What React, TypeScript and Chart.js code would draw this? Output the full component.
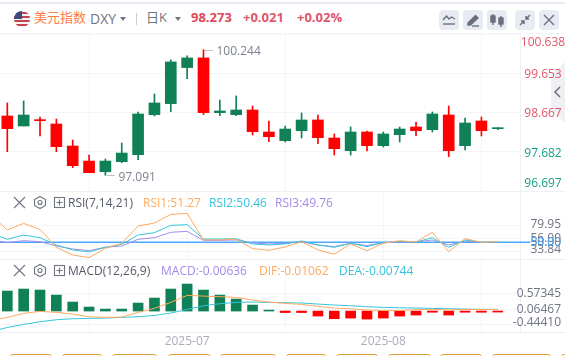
import React, { useEffect, useRef } from "react";
import { Chart, registerables } from "chart.js";

Chart.register(...registerables);

const UP = "#108156";
const DOWN = "#ff0000";
const GRID = "#f4f5f8";

// Candles, oldest first
const opens = [98.58, 98.329, 98.48, 98.379, 97.826, 97.449, 97.181, 97.433, 97.609, 98.614, 98.89, 99.795, 100.038, 98.664, 98.614, 98.731, 98.178, 97.96, 98.212, 98.48, 98.027, 97.709, 98.178, 97.835, 98.111, 98.304, 98.237, 98.605, 97.835, 98.455, 98.262];
const closes = [98.262, 98.605, 98.463, 97.81, 97.332, 97.156, 97.449, 97.65, 98.63, 98.907, 99.937, 100.038, 98.664, 98.706, 98.731, 98.186, 98.061, 98.253, 98.48, 98.036, 97.759, 98.178, 97.835, 98.128, 98.253, 98.212, 98.63, 97.709, 98.404, 98.212, 98.273];
const highs = [98.907, 98.957, 98.555, 98.505, 97.977, 97.6, 97.5, 97.902, 98.681, 99.133, 99.987, 100.088, 100.244, 98.982, 99.083, 98.831, 98.455, 98.329, 98.656, 98.605, 98.128, 98.304, 98.203, 98.178, 98.304, 98.429, 98.681, 98.831, 98.53, 98.555, 98.287];
const lows = [97.684, 98.329, 98.078, 97.684, 97.282, 97.156, 97.091, 97.408, 97.483, 98.58, 98.689, 99.518, 98.614, 98.589, 98.589, 98.103, 97.935, 97.927, 98.027, 97.885, 97.6, 97.6, 97.701, 97.801, 97.927, 98.086, 98.178, 97.558, 97.726, 98.078, 98.237];

// RSI and DIF/DEA lines start one session before the first visible candle
const rsi1 = [97, 71.3, 82.8, 72.4, 41.3, 28, 23.4, 39.6, 48.2, 78.2, 83.4, 98.4, 100.1, 54, 54, 55.7, 39, 36.1, 41.9, 51.1, 36.7, 29.2, 47.1, 35.5, 48.2, 52.8, 50.5, 67.3, 33.8, 56.3, 50, 51.27];
const rsi2 = [65.5, 55.2, 62.6, 58, 45.3, 36.7, 33.2, 41.3, 46.5, 62.6, 66.7, 79.4, 80.5, 55.7, 55.7, 56.3, 47.1, 45.3, 47.1, 52.3, 45.3, 41.3, 48.2, 42.5, 49.4, 51.1, 50.5, 58, 41.3, 54, 50, 50.46];
const rsi3 = [55.2, 49.4, 52.8, 51.1, 43.6, 38.4, 35.5, 41.3, 43.6, 55.2, 58, 67.3, 69, 53.4, 53.4, 54, 48.8, 47.1, 48.2, 51.1, 45.3, 42.5, 48.2, 44.2, 49.4, 50.5, 50.5, 54, 45.3, 52.3, 50, 49.76];
const dif = [-0.324, -0.212, -0.079, -0.012, -0.045, -0.101, -0.19, -0.212, -0.201, -0.045, 0.089, 0.29, 0.524, 0.501, 0.479, 0.457, 0.368, 0.301, 0.256, 0.223, 0.156, 0.1, 0.078, 0.033, 0.022, 0.022, 0.044, 0.055, 0.033, 0.055, 0.055, 0.055];
const dea = [-0.692, -0.547, -0.446, -0.357, -0.29, -0.257, -0.246, -0.235, -0.212, -0.19, -0.145, -0.067, 0.055, 0.178, 0.245, 0.29, 0.301, 0.29, 0.279, 0.268, 0.234, 0.201, 0.178, 0.145, 0.122, 0.111, 0.1, 0.089, 0.078, 0.067, 0.055, 0.055];
const macd = [0.669, 0.736, 0.702, 0.535, 0.301, 0.134, 0.067, 0.067, 0.268, 0.435, 0.736, 0.903, 0.702, 0.535, 0.401, 0.201, 0.03, -0.05, -0.05, -0.167, -0.256, -0.234, -0.268, -0.234, -0.167, -0.134, -0.04, -0.134, -0.04, -0.04, -0.03];

// Axis ticks
const priceTicks = [100.638, 99.653, 98.667, 97.682, 96.697];
const priceLabels = ["100.638", "99.653", "98.667", "97.682", "96.697"];
const rsiTicks = [79.95, 56, 50, 33.84];
const rsiLabels = ["79.95", "56.00", "50.00", "33.84"];
const macdTicks = [0.57345, 0.06467, -0.4441];
const macdLabels = ["0.57345", "0.06467", "-0.44410"];
const dateTicks = [11, 23];
const dateLabels = ["2025-07", "2025-08"];
const highLabel = "100.244";
const lowLabel = "97.091";
const rsiMiddle = 50;

const indexes = opens.map((_, i) => i);
const xMin = -0.447;
const xMax = 31.36;
const FONT = "'Open Sans', 'Noto Sans CJK SC', sans-serif";

function xScale(showDates: boolean) {
  return {
    type: "linear",
    min: xMin,
    max: xMax,
    offset: false,
    afterBuildTicks(axis: any) {
      axis.ticks = dateTicks.map((value) => ({ value }));
    },
    afterFit(axis: any) {
      axis.height = showDates ? 22 : 0;
    },
    grid: { color: GRID, drawTicks: false, lineWidth: 1 },
    border: { display: false },
    ticks: {
      display: showDates,
      autoSkip: false,
      maxRotation: 0,
      padding: 2,
      color: "#a9adbc",
      font: { family: FONT, size: 12 },
      callback: (v: number) => dateLabels[dateTicks.indexOf(v)] ?? "",
    },
  };
}

function yScale(min: number, max: number, ticks: number[]) {
  return {
    type: "linear",
    position: "right",
    min,
    max,
    afterBuildTicks(axis: any) {
      axis.ticks = ticks.map((value) => ({ value }));
    },
    afterFit(axis: any) {
      axis.width = 45;
    },
    grid: { color: GRID, drawTicks: false, lineWidth: 1 },
    border: { display: true, color: "#eef0f4" },
    ticks: { display: false },
  };
}

// Right-hand labels, kept inside the pane the way the reference keeps them
function axisLabels(
  ticks: number[],
  labels: string[],
  colour: (i: number) => string,
  align: "center" | "right",
  anchor: number,
  shift: number,
) {
  return {
    id: "axisLabels",
    afterDraw(chart: any) {
      const { ctx, scales } = chart;
      ctx.save();
      ctx.font = `12px ${FONT}`;
      ctx.textAlign = align;
      ctx.textBaseline = "middle";
      ticks.forEach((t, i) => {
        const y = Math.min(Math.max(scales.y.getPixelForValue(t), 7), scales.y.bottom - 9);
        ctx.fillStyle = colour(i);
        ctx.fillText(labels[i], anchor, y + shift);
      });
      ctx.restore();
    },
  };
}

const extremes = {
  id: "extremes",
  afterDatasetsDraw(chart: any) {
    const { ctx, scales } = chart;
    const hi = highs.indexOf(Math.max(...highs));
    const lo = lows.indexOf(Math.min(...lows));
    ctx.save();
    ctx.font = `12px ${FONT}`;
    ctx.textBaseline = "middle";
    ctx.fillStyle = "#7d8290";
    ctx.strokeStyle = "#7d8290";
    ctx.lineWidth = 1;
    ctx.setLineDash([1, 1]);
    const mark = (i: number, v: number, text: string) => {
      const x = scales.x.getPixelForValue(i) + 2;
      const y = scales.y.getPixelForValue(v);
      ctx.beginPath();
      ctx.moveTo(x, Math.round(y) + 0.5);
      ctx.lineTo(x + 8, Math.round(y) + 0.5);
      ctx.stroke();
      ctx.fillText(text, x + 11, y + 2);
    };
    mark(hi, highs[hi], highLabel);
    mark(lo, lows[lo], lowLabel);
    ctx.restore();
  },
};

const linePoints = (values: number[]) => values.map((y, i) => ({ x: i - 1, y }));
const line = (values: number[], color: string) => ({
  type: "line",
  data: linePoints(values),
  borderColor: color,
  borderWidth: 1,
  pointRadius: 0,
  tension: 0,
});

function makeConfigs() {
  const candleColors = opens.map((o, i) => (closes[i] >= o ? UP : DOWN));
  const base = {
    animation: false,
    responsive: false,
    maintainAspectRatio: false,
    events: [],
    plugins: { legend: { display: false }, tooltip: { enabled: false } },
  };
  const main = {
    type: "bar",
    data: {
      datasets: [
        {
          data: indexes.map((i) => ({ x: i, y: [opens[i], closes[i]] })),
          backgroundColor: candleColors,
          barThickness: 11,
          grouped: false,
          minBarLength: 1,
          order: 1,
        },
        {
          data: indexes.map((i) => ({ x: i, y: [lows[i], highs[i]] })),
          backgroundColor: candleColors,
          barThickness: 1,
          grouped: false,
          order: 2,
        },
      ],
    },
    options: {
      ...base,
      layout: { padding: 0 },
      scales: { x: xScale(false), y: yScale(priceTicks[4], priceTicks[0], priceTicks) },
    },
    plugins: [
      axisLabels(priceTicks, priceLabels, (i) => (i < 3 ? "#e0566a" : "#16a085"), "center", 543, 1.5),
      extremes,
    ],
  };
  const rsi = {
    type: "line",
    data: {
      datasets: [
        line(rsi1, "#ffa95e"),
        line(rsi2, "#35c4dc"),
        line(rsi3, "#a58be8"),
        {
          ...line([rsiMiddle, rsiMiddle], "#4aa8ff"),
          data: [
            { x: -1, y: rsiMiddle },
            { x: 32, y: rsiMiddle },
          ],
          borderWidth: 1.5,
          clip: false,
        },
      ],
    },
    options: {
      ...base,
      scales: { x: xScale(false), y: yScale(21, 139, rsiTicks) },
    },
    plugins: [
      axisLabels(rsiTicks, rsiLabels, () => "#6f7482", "right", 561, 0),
      {
        id: "rsiMiddleLabel",
        afterDraw(chart: any) {
          const { ctx, scales } = chart;
          ctx.save();
          ctx.font = `12px ${FONT}`;
          ctx.textAlign = "right";
          ctx.textBaseline = "middle";
          ctx.fillStyle = "#4aa8ff";
          ctx.fillText(rsiLabels[2], 561, scales.y.getPixelForValue(rsiMiddle));
          ctx.restore();
        },
      },
    ],
  };
  const macdChart = {
    type: "bar",
    data: {
      datasets: [
        line(dif, "#ffa95e"),
        line(dea, "#35c4dc"),
        {
          type: "bar",
          data: indexes.map((i) => ({ x: i, y: macd[i] })),
          backgroundColor: macd.map((v) => (v >= 0 ? UP : DOWN)),
          barThickness: 10,
          minBarLength: 1,
          order: 5,
        },
      ],
    },
    options: {
      ...base,
      scales: { x: xScale(true), y: yScale(-0.7, 1.74, macdTicks) },
    },
    plugins: [axisLabels(macdTicks, macdLabels, () => "#6f7482", "right", 561, 0)],
  };
  return [main, rsi, macdChart];
}

const txt = (left: number, top: number, color: string, size = 12, extra: any = {}): React.CSSProperties => ({
  position: "absolute",
  left,
  top,
  color,
  fontSize: size,
  lineHeight: "16px",
  whiteSpace: "nowrap",
  ...extra,
});

function Btn({ left, children }: { left: number; children: React.ReactNode }) {
  return (
    <div style={{ position: "absolute", left, top: 10, width: 20, height: 20, borderRadius: 4, background: "#e9ebf2" }}>
      <svg width="20" height="20" viewBox="0 0 20 20" fill="none" stroke="#6b7080" strokeWidth="1.4">
        {children}
      </svg>
    </div>
  );
}

function PaneIcons({ top }: { top: number }) {
  return (
    <svg style={{ position: "absolute", left: 12, top, width: 56, height: 16 }} viewBox="0 0 56 16" fill="none" stroke="#6f7482" strokeWidth="1.1">
      <path d="M2 2 L13 13 M13 2 L2 13" />
      <path d="M28 1.5 L33.5 4.5 V10.5 L28 13.5 L22.5 10.5 V4.5 Z" />
      <circle cx="28" cy="7.5" r="2" />
      <rect x="42.5" y="2.5" width="10" height="10" />
      <path d="M47.5 4.5 V10.5 M44.5 7.5 H50.5" />
    </svg>
  );
}

const tabLefts = [10, 62, 112, 168, 220, 286, 336, 388, 440, 492, 561];
const tabWidths = [42, 40, 45, 43, 56, 40, 42, 43, 42, 59, 20];

export default function App() {
  const mainRef = useRef<HTMLCanvasElement>(null);
  const rsiRef = useRef<HTMLCanvasElement>(null);
  const macdRef = useRef<HTMLCanvasElement>(null);

  useEffect(() => {
    const configs = makeConfigs();
    const canvases = [mainRef.current, rsiRef.current, macdRef.current];
    const charts = canvases.map((c, i) => new Chart(c as HTMLCanvasElement, configs[i] as any));
    return () => charts.forEach((c) => c.destroy());
  }, []);

  return (
    <div style={{ position: "fixed", left: 0, top: 0, width: 565, height: 356, overflow: "hidden", background: "#fff", fontFamily: FONT }}>
      <div style={{ position: "absolute", left: 0, top: 2, width: 565, height: 2, background: "#e6e9f0" }} />
      <svg style={{ position: "absolute", left: 14, top: 11 }} width="16" height="16" viewBox="0 0 16 16">
        <defs>
          <clipPath id="flag">
            <circle cx="8" cy="8" r="8" />
          </clipPath>
        </defs>
        <g clipPath="url(#flag)">
          <rect width="16" height="16" fill="#f4f4f4" />
          <rect y="1" width="16" height="2" fill="#c8414f" />
          <rect y="5" width="16" height="2" fill="#c8414f" />
          <rect y="9" width="16" height="2" fill="#c8414f" />
          <rect y="13" width="16" height="2" fill="#c8414f" />
          <rect width="8" height="8" fill="#3c4a7d" />
        </g>
      </svg>
      <div style={txt(34, 9, "#ff7a45", 13)}>美元指数</div>
      <div style={txt(90, 11, "#6f7482", 14)}>DXY</div>
      <div style={{ position: "absolute", left: 120, top: 17, borderLeft: "3px solid transparent", borderRight: "3px solid transparent", borderTop: "4px solid #6f7482" }} />
      <div style={{ position: "absolute", left: 136, top: 13, width: 1, height: 12, background: "#c9ccd6" }} />
      <div style={txt(146, 9, "#6f7482", 13)}>日K</div>
      <div style={{ position: "absolute", left: 175, top: 17, borderLeft: "3px solid transparent", borderRight: "3px solid transparent", borderTop: "4px solid #6f7482" }} />
      <div style={txt(191, 9, "#e0485a", 13, { fontWeight: 700 })}>98.273</div>
      <div style={txt(243, 9, "#e0566a", 13, { fontWeight: 700 })}>+0.021</div>
      <div style={txt(297, 9, "#e0566a", 13, { fontWeight: 700 })}>+0.02%</div>

      <Btn left={439}>
        <path d="M4 10 L7.5 6 L10 9 L12.5 7 L16 9" />
        <path d="M4 14 H16" />
      </Btn>
      <Btn left={463}>
        <path d="M5 13 L12.5 5.5 L15 8 L7.5 15 L5 15 Z" fill="#6b7080" />
        <path d="M9 16 H16" />
      </Btn>
      <Btn left={487}>
        <path d="M6 4 V15 M14 6 V17" />
        <rect x="4" y="6" width="4" height="6" fill="#6b7080" />
        <rect x="12" y="8" width="4" height="6" fill="#6b7080" />
      </Btn>
      <Btn left={515}>
        <path d="M15 5 L11 9 M5 15 L9 11" />
        <path d="M11 6 V9 H14 M6 11 H9 V14" fill="#6b7080" />
      </Btn>
      <Btn left={539}>
        <path d="M5 5 L15 15 M15 5 L5 15" />
      </Btn>

      <div style={{ position: "absolute", left: 0, top: 33, width: 565, height: 1, background: GRID }} />
      <div style={{ position: "absolute", left: 551, top: 62, width: 14, height: 61, background: "#eff0f4", clipPath: "polygon(100% 0, 0 22%, 0 78%, 100% 100%)" }} />
      <canvas ref={mainRef} width={565} height={157} style={{ position: "absolute", left: 0, top: 34, width: 565, height: 157 }} />
      <svg style={{ position: "absolute", left: 553, top: 85 }} width="10" height="14" viewBox="0 0 10 14" fill="none" stroke="#6b7080" strokeWidth="1.5">
        <path d="M7 2 L2 7 L7 12" />
      </svg>

      <canvas ref={rsiRef} width={565} height={68} style={{ position: "absolute", left: 0, top: 191, width: 565, height: 68 }} />
      <div style={{ position: "absolute", left: 0, top: 191, width: 565, height: 1, background: "#eef0f4" }} />
      <PaneIcons top={195} />
      <div style={txt(68, 195, "#555a68", 12)}>RSI(7,14,21)</div>
      <div style={txt(143, 195, "#ffa95e", 12)}>RSI1:51.27</div>
      <div style={txt(209, 195, "#35c4dc", 12)}>RSI2:50.46</div>
      <div style={txt(275, 195, "#a58be8", 12)}>RSI3:49.76</div>

      <canvas ref={macdRef} width={565} height={95} style={{ position: "absolute", left: 0, top: 259, width: 565, height: 95 }} />
      <div style={{ position: "absolute", left: 0, top: 259, width: 565, height: 1, background: "#eef0f4" }} />
      <div style={{ position: "absolute", left: 0, top: 332, width: 565, height: 1, background: "#eef0f4" }} />
      <PaneIcons top={263} />
      <div style={txt(68, 263, "#555a68", 12)}>MACD(12,26,9)</div>
      <div style={txt(161, 263, "#a58be8", 12)}>MACD:-0.00636</div>
      <div style={txt(259, 263, "#ffa95e", 12)}>DIF:-0.01062</div>
      <div style={txt(339, 263, "#35c4dc", 12)}>DEA:-0.00744</div>

      {tabLefts.map((left, i) => (
        <div key={left} style={{ position: "absolute", left, top: 354, width: tabWidths[i], height: 6, boxSizing: "border-box", border: "1px solid #e0a040", borderRadius: 3 }} />
      ))}
    </div>
  );
}
